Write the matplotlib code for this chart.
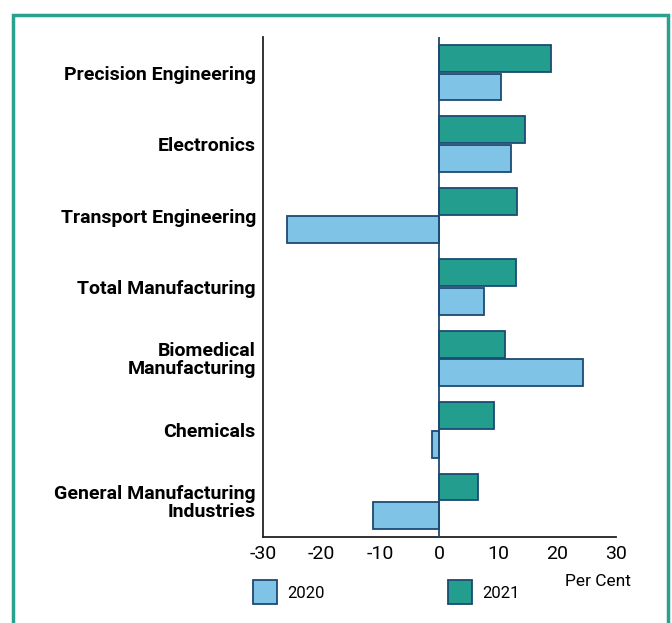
# -*- coding: utf-8 -*-
"""
Growth by manufacturing cluster, 2020 vs 2021 (horizontal grouped bars)
"""

# %% load libraries
import matplotlib.pyplot as plt
import matplotlib.patches as mpatches
import numpy as np

# %% data
categories = ['Precision Engineering', 'Electronics', 'Transport Engineering',
              'Total Manufacturing', 'Biomedical\nManufacturing', 'Chemicals',
              'General Manufacturing\nIndustries']
growth_2020 = [10.4, 12.2, -25.9, 7.5, 24.4, -1.2, -11.3]
growth_2021 = [18.9, 14.5, 13.1, 13.0, 11.1, 9.2, 6.5]
x_ticks = [-30, -20, -10, 0, 10, 20, 30]

# %% style
plt.rcParams['font.family'] = ['Roboto', 'DejaVu Sans']
teal = '#239d8e'
light_blue = '#7fc4e6'
edge = '#1c4a72'

# %% create figure
fig = plt.figure(figsize=(6.72, 6.23), dpi=100)
ax = fig.add_axes([0.391, 0.138, 0.526, 0.8026])

y = np.arange(len(categories))
ax.barh(y - 0.2, growth_2021, height=0.375, color=teal,
        edgecolor=edge, linewidth=1.3, zorder=3)
ax.barh(y + 0.2, growth_2020, height=0.375, color=light_blue,
        edgecolor=edge, linewidth=1.3, zorder=3)

# zero line
ax.axvline(0, color=edge, linewidth=1.3, zorder=4)

# axes decoration
ax.set_xlim(-30, 30)
ax.set_ylim(len(categories) - 0.5, -0.5)
ax.set_xticks(x_ticks)
ax.set_xticklabels([str(t) for t in x_ticks], fontsize=14)
ax.set_yticks(y)
ax.set_yticklabels(categories, fontsize=14, fontweight='bold',
                   linespacing=0.95)
ax.tick_params(axis='both', length=0)
ax.tick_params(axis='x', pad=6)
ax.tick_params(axis='y', pad=5)

for side in ['top', 'right']:
    ax.spines[side].set_visible(False)
for side in ['left', 'bottom']:
    ax.spines[side].set_linewidth(1.3)
    ax.spines[side].set_color('#222222')

# %% legend (drawn by hand in figure coordinates)
W, H = 672, 623
def fig_rect(x0, y0, w, h, color):
    r = mpatches.Rectangle((x0 / W, 1 - (y0 + h) / H), w / W, h / H,
                           transform=fig.transFigure, facecolor=color,
                           edgecolor=edge, linewidth=1.3)
    fig.patches.append(r)

fig_rect(253, 580, 24, 24, light_blue)
fig.text(287 / W, 1 - 593 / H, '2020', fontsize=12, va='center', ha='left')
fig_rect(448, 580, 24, 24, teal)
fig.text(482 / W, 1 - 593 / H, '2021', fontsize=12, va='center', ha='left')
fig.text(565 / W, 1 - 582 / H, 'Per Cent', fontsize=12.5, va='center',
         ha='left')

# %% outer frame
frame = mpatches.Rectangle((13 / W, -0.05), (668 - 13) / W, 1 - 15 / H + 0.05,
                           transform=fig.transFigure, fill=False,
                           edgecolor='#2aa08f', linewidth=2.5)
fig.patches.append(frame)

# %% save
fig.savefig('out.png', dpi=100)
